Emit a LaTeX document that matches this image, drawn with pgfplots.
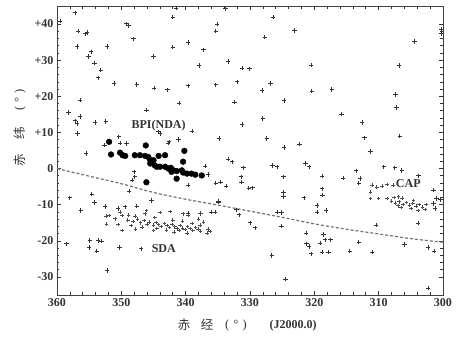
\documentclass[border=0pt]{standalone}
\usepackage{fontspec}
\setmainfont{Liberation Serif}
\newfontfamily\cjk{Noto Sans CJK SC}
\usepackage{pgfplots}
\pgfplotsset{compat=1.18}

\begin{document}
\begin{tikzpicture}[x=1pt,y=1pt]
\useasboundingbox (0,0) rectangle (460,337);
\begin{axis}[
  at={(57pt,42pt)}, anchor=south west,
  scale only axis, width=386pt, height=289pt,
  x dir=reverse, xmin=300, xmax=360, ymin=-35, ymax=45,
  xtick={300,310,...,360}, ytick={-30,-20,...,40},
  yticklabels={-30,-20,-10,0,+10,+20,+30,+40},
  minor x tick num=4, minor y tick num=4,
  tick align=inside, major tick length=4pt, minor tick length=2.5pt,
  tick style={black!80, line width=0.6pt},
  ticklabel style={font=\bfseries\fontsize{12}{13}\selectfont, text=black!80},
  /pgf/number format/assume math mode=true,
  axis line style={line width=0.8pt, black!75},
  clip=false,
]
% scattered field sources
\addplot[only marks, mark=+, mark size=2.2pt, black!80, line width=0.8pt] coordinates {
(359.5,40.8)(357.2,43.1)(356.7,38.0)(355.6,37.3)(355.3,37.7)(356.9,33.8)(352.2,33.8)
(354.7,32.3)(355.1,31.0)(354.2,29.2)(353.2,27.3)(353.6,25.1)(351.1,23.6)(349.2,40.1)
(348.9,39.5)(348.1,35.9)(347.6,23.3)(345.0,31.0)(344.9,22.3)(342.8,21.8)(342.0,41.9)
(341.5,44.4)(342.0,33.6)(339.6,34.9)(339.6,22.9)(341.0,18.1)(346.1,16.2)(356.4,19.0)
(358.2,15.5)(357.2,13.2)(356.9,12.5)(356.4,14.4)(354.1,12.7)(352.4,13.0)(356.8,9.7)
(355.5,4.2)(344.2,10.2)(341.1,8.1)(342.7,7.1)(339.0,10.4)(334.8,8.3)(333.8,44.2)
(326.4,41.9)(335.1,40.0)(335.3,38.1)(323.1,38.2)(327.7,36.4)(337.2,32.9)(337.9,28.5)
(333.4,29.6)(331.2,27.8)(330.1,27.6)(320.5,28.6)(335.3,23.2)(332.0,24.0)(326.8,23.5)
(328.1,21.6)(320.4,21.4)(332.4,18.4)(324.7,18.8)(328.0,13.9)(331.2,12.2)(327.4,8.3)
(324.7,5.8)(322.3,6.8)(300.3,38.5)(300.3,37.3)(304.4,35.2)(306.8,28.5)(317.3,21.9)
(307.4,20.5)(307.2,16.9)(315.8,15.1)(312.6,12.8)(312.2,8.5)(306.7,9.0)(311.3,4.7)
(309.2,0.5)(307.5,0.2)(306.4,-0.5)(303.8,-2.0)
(352.6,6.5)(350.2,7.1)(349.2,6.9)(350.4,8.8)(344.0,9.7)(342.6,7.4)(333.4,2.6)(332.8,1.9)
(331.0,0.2)(326.5,0.9)(325.8,0.5)(321.4,1.4)(320.8,0.5)(337.0,0.7)(336.5,-1.6)(324.8,-2.3)
(335.3,-4.0)(334.6,-3.7)(333.7,-4.9)(331.4,-2.3)(331.3,-3.7)(330.2,-5.4)(329.6,-5.3)
(324.8,-6.5)(324.8,-7.7)(321.6,-8.1)(334.9,-9.0)(332.1,-11.4)(331.7,-12.8)(339.6,-12.3)
(337.7,-12.3)(335.4,-12.0)(325.8,-12.0)(325.1,-12.2)(319.6,-10.2)(319.6,-12.0)(330.0,-15.0)
(329.2,-16.4)(325.1,-15.9)(321.3,-17.9)(321.2,-20.8)(320.8,-21.6)(320.5,-23.6)(326.6,-24.1)
(324.5,-30.6)(348.0,-0.9)(347.9,-2.3)(348.3,-3.2)(348.8,-6.2)(345.3,-8.8)(339.6,-4.6)
(318.8,-2.1)(315.5,-2.6)(313.5,-0.6)(312.9,-2.8)(313.1,-4.0)(318.8,-5.6)(318.7,-7.4)
(318.2,-11.6)(310.4,-15.6)(303.9,-15.1)(318.6,-18.2)(318.3,-19.7)(319.1,-20.6)(317.5,-19.7)
(318.8,-23.1)(317.8,-23.1)(314.5,-22.9)(313.1,-20.4)(311.0,-23.1)(306.0,-21.0)(302.3,-21.8)
(301.4,-22.9)(302.3,-33.1)(301.5,-6.0)(301.0,-8.3)(300.4,-8.6)(301.5,-9.7)(301.2,-11.1)
(358.0,-8.1)(354.6,-7.1)(354.2,-9.4)(356.3,-11.6)(352.5,-10.5)(350.5,-11.0)(349.4,-10.6)
(347.6,-10.4)(358.5,-20.8)(354.9,-19.9)(355.0,-21.8)(353.6,-19.9)(353.1,-20.1)(353.8,-22.8)
(350.3,-21.9)(346.9,-22.2)(352.2,-28.2)(334.9,-9.3)(336.0,-12.0)
};
% SDA cluster
\addplot[only marks, mark=+, mark size=1.8pt, black!70, line width=0.6pt] coordinates {
(351.9,-13.0)(351.0,-13.9)(352.3,-15.3)(350.2,-12.0)(349.9,-13.0)(348.9,-12.8)(347.9,-13.1)
(346.3,-12.5)(346.1,-11.6)(344.0,-12.2)(342.4,-11.9)(340.4,-12.5)(339.6,-13.0)(337.8,-12.5)
(337.2,-14.8)(337.8,-15.7)(336.5,-16.7)(336.2,-17.4)(336.7,-17.9)(349.9,-17.1)(345.0,-17.1)
(352.4,-13.2)(349.0,-14.2)(348.2,-14.6)(347.5,-14.0)(347.0,-15.0)(346.5,-14.4)(346.0,-15.3)
(345.6,-14.8)(345.0,-15.6)(344.6,-14.9)(344.2,-15.5)(343.8,-16.0)(343.3,-15.2)(342.9,-15.8)
(342.5,-16.3)(342.1,-15.5)(341.7,-16.1)(341.3,-16.6)(340.9,-15.8)(340.5,-16.4)(340.1,-16.9)
(339.7,-16.0)(339.3,-16.6)(338.9,-17.1)(338.5,-16.3)(338.1,-16.8)(337.7,-17.3)(341.0,-17.2)
(343.0,-17.0)(344.5,-16.6)(346.8,-16.2)(348.5,-15.8)(350.5,-15.5)(347.8,-16.8)(339.0,-15.2)
(342.0,-14.2)(344.8,-13.6)(340.5,-14.5)(338.0,-14.0)(341.8,-17.6)(339.8,-17.8)
};
% CAP cluster
\addplot[only marks, mark=+, mark size=1.8pt, black!70, line width=0.6pt] coordinates {
(311.3,-6.5)(311.0,-4.6)(310.3,-5.1)(309.5,-4.9)(308.7,-4.4)(307.8,-4.6)(311.3,-8.3)
(310.0,-8.3)(308.7,-8.3)(307.6,-8.0)(306.9,-7.8)(306.4,-8.1)(308.0,-9.0)(307.4,-9.6)
(306.8,-9.2)(306.2,-9.9)(305.7,-9.4)(305.2,-10.1)(304.7,-9.7)(304.2,-10.4)(303.7,-10.0)
(303.2,-10.7)(302.8,-11.3)(305.0,-11.0)(306.5,-10.8)(303.9,-11.6)(307.0,-10.3)(304.6,-8.8)
(302.6,-10.0)
};
% BPI (NDA) filled circles
\addplot[only marks, mark=*, mark size=2.9pt, black] coordinates {
(351.9,7.4)(346.2,6.4)(340.2,4.9)(351.6,3.9)(350.2,4.4)(349.8,3.7)(349.4,3.5)(347.9,3.7)
(347.1,3.7)(346.3,3.5)(345.8,3.2)(345.5,2.3)(345.0,2.3)(344.2,3.5)(343.2,3.7)(345.5,1.4)
(344.8,0.9)(344.5,0.5)(343.2,0.5)(342.7,0.0)(342.3,0.2)(341.9,-0.5)(341.4,-0.7)(342.2,-0.9)
(340.4,1.9)(340.6,-0.5)(340.4,-1.1)(339.8,-1.4)(341.4,-2.8)(339.1,-1.4)(338.5,-1.7)
(337.5,-1.9)(346.1,-3.8)(344.0,0.5)
};
% dashed curve
\addplot[black!55, line width=1.2pt, dash pattern=on 3pt off 2pt, smooth] coordinates {
(360,0)(355,-2.1)(350,-4.2)(345,-6.6)(340,-8.5)(335,-10.1)(330,-11.8)(325,-13.5)
(320,-15.3)(315,-16.8)(310,-18.1)(305,-19.4)(300,-20.4)
};
\node[font=\bfseries\fontsize{12}{13}\selectfont, text=black!80] at (axis cs:344.2,12) {BPI(NDA)};
\node[font=\bfseries\fontsize{12}{13}\selectfont, text=black!80] at (axis cs:343.4,-22.2) {SDA};
\node[font=\bfseries\fontsize{12}{13}\selectfont, text=black!80] at (axis cs:305.4,-4.2) {CAP};
\end{axis}
% x label
\node[text=black!80, font=\cjk\fontsize{12.5}{13}\selectfont] at (184,12) {赤};
\node[text=black!80, font=\cjk\fontsize{12.5}{13}\selectfont] at (207,12) {经};
\node[text=black!80, font=\fontsize{12.5}{13}\selectfont] at (236,12) {(\,\,°\,\,)};
\node[text=black!80, font=\bfseries\fontsize{12}{13}\selectfont] at (293,11) {(J2000.0)};
% y label
\node[text=black!80, font=\cjk\fontsize{12.5}{13}\selectfont, rotate=90] at (20,177) {赤};
\node[text=black!80, font=\cjk\fontsize{12.5}{13}\selectfont, rotate=90] at (20,204) {纬};
\node[text=black!80, font=\fontsize{12.5}{13}\selectfont, rotate=90] at (20,237) {(\,\,°\,\,)};
\end{tikzpicture}
\end{document}
